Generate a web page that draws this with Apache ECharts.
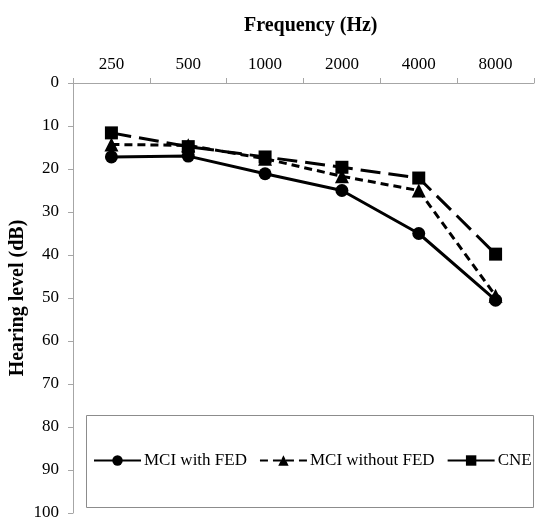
<!DOCTYPE html>
<html>
<head>
<meta charset="utf-8">
<script src="https://cdn.jsdelivr.net/npm/echarts@6/dist/echarts.min.js"></script>
<style>
  html, body { margin: 0; padding: 0; background: #fff; }
  #chart { width: 543px; height: 519px; }
</style>
</head>
<body>
<div id="chart"></div>
<script>
// frequencies (Hz)
var frequencies = ['250', '500', '1000', '2000', '4000', '8000'];
// hearing levels (dB)
var mciWithFed = [17.2, 17.0, 21.1, 25.0, 35.0, 50.5];
var mciWithoutFed = [14.3, 14.5, 17.6, 21.7, 25.0, 49.5];
var cne = [11.6, 14.8, 17.2, 19.6, 22.1, 39.8];
var levelTicks = [0, 100, 10]; // min, max, step

var serif = 'Liberation Serif';
var axisGray = '#a6a6a6';

var chart = echarts.init(document.getElementById('chart'));

chart.setOption({
    backgroundColor: '#fff',
    animation: false,
    title: {
        text: 'Frequency (Hz)',
        left: 239,
        top: 11,
        textStyle: { fontFamily: serif, fontSize: 20, fontWeight: 'bold', color: '#000' }
    },
    // box round the legend
    graphic: [{
        type: 'rect',
        left: 86,
        top: 415,
        shape: { width: 447, height: 92 },
        style: { fill: '#fff', stroke: '#8c8c8c', lineWidth: 1 },
        z: 1
    }],
    legend: {
        left: 93,
        top: 452,
        padding: 0,
        itemWidth: 47,
        itemHeight: 13,
        itemGap: 12,
        textStyle: { fontFamily: serif, fontSize: 17, color: '#000', padding: [0, 0, 0, -2] },
        z: 5
    },
    grid: { left: 73, right: 9, top: 83, bottom: 6, outerBoundsMode: 'none' },
    xAxis: {
        type: 'category',
        position: 'top',
        data: frequencies,
        boundaryGap: true,
        axisLine: { lineStyle: { color: axisGray, width: 1 } },
        axisTick: { show: true, length: 5, lineStyle: { color: axisGray } },
        axisLabel: { fontFamily: serif, fontSize: 17, color: '#000', margin: 10 },
        splitLine: { show: false }
    },
    yAxis: {
        type: 'value',
        inverse: true,
        min: levelTicks[0],
        max: levelTicks[1],
        interval: levelTicks[2],
        name: 'Hearing level (dB)',
        nameLocation: 'middle',
        nameGap: 45,
        nameMoveOverlap: false,
        nameTextStyle: { fontFamily: serif, fontSize: 20, fontWeight: 'bold', color: '#000' },
        axisLine: { show: true, lineStyle: { color: axisGray, width: 1 } },
        axisTick: { show: true, length: 5, lineStyle: { color: axisGray } },
        axisLabel: { fontFamily: serif, fontSize: 17, color: '#000', margin: 14 },
        splitLine: { show: false }
    },
    series: [
        {
            name: 'MCI with FED',
            type: 'line',
            data: mciWithFed,
            symbol: 'circle',
            symbolSize: 13,
            itemStyle: { color: '#000' },
            lineStyle: { color: '#000', width: 3, type: 'solid' },
            z: 3
        },
        {
            name: 'MCI without FED',
            type: 'line',
            data: mciWithoutFed,
            symbol: 'triangle',
            symbolSize: 14,
            itemStyle: { color: '#000' },
            lineStyle: { color: '#000', width: 3, type: [8, 5] },
            z: 3
        },
        {
            name: 'CNE',
            type: 'line',
            data: cne,
            symbol: 'rect',
            symbolSize: 13,
            itemStyle: { color: '#000' },
            lineStyle: { color: '#000', width: 3, type: [20, 8] },
            z: 3
        }
    ]
});
</script>
</body>
</html>
